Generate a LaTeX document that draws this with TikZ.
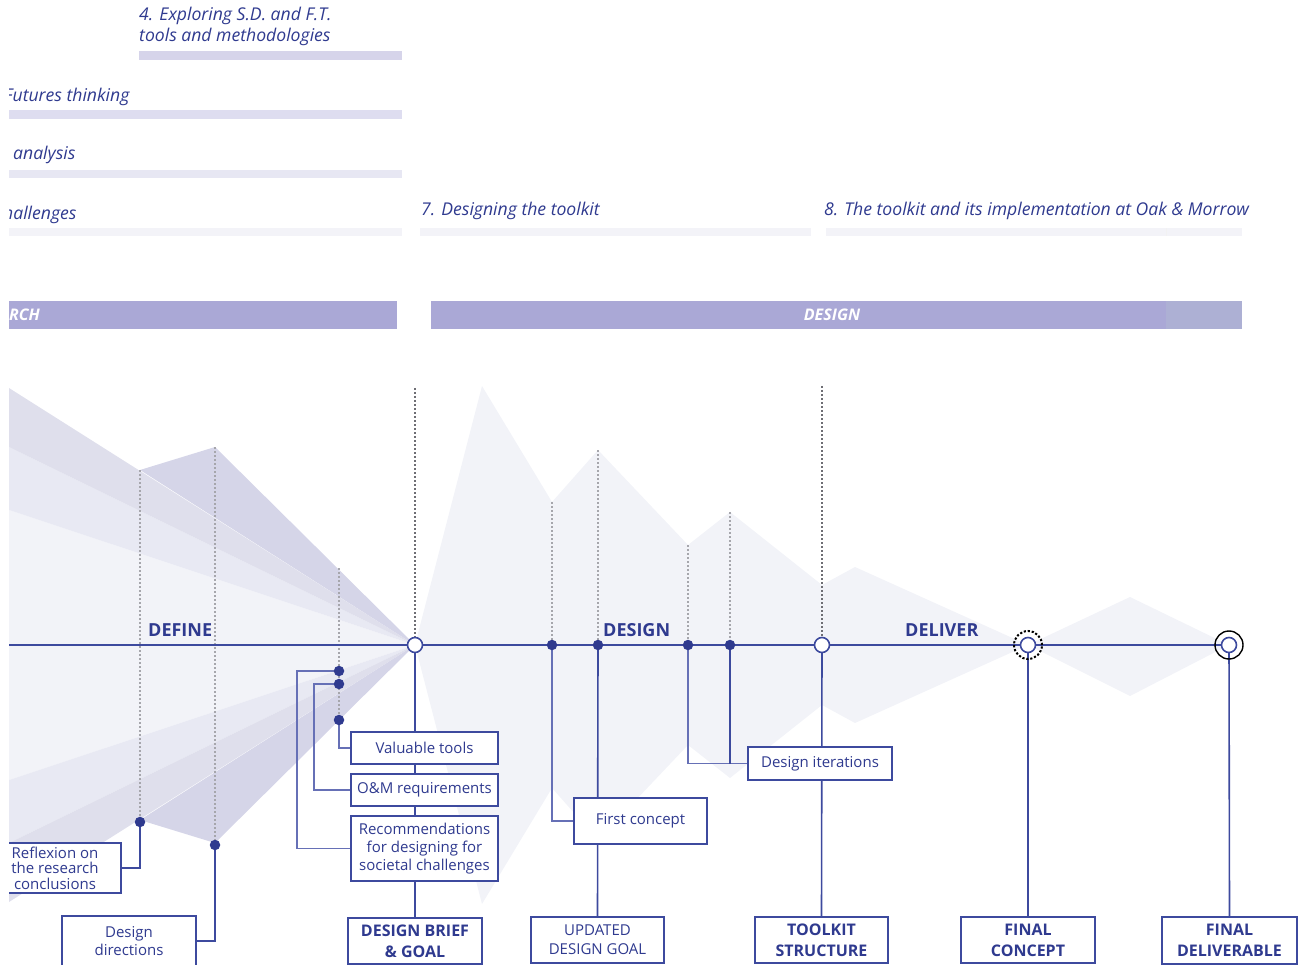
\documentclass[tikz,border=0pt]{standalone}
\usepackage{fontspec}
\setmainfont{Open Sans}
\definecolor{navy}{HTML}{2F3A8F}
\definecolor{wire}{HTML}{3D4A9E}
\definecolor{wirelight}{HTML}{6670B6}
\definecolor{bgA}{HTML}{F2F3F8}
\definecolor{bgB}{HTML}{E8E9F3}
\definecolor{bgC}{HTML}{DFDFEC}
\definecolor{bgD}{HTML}{D5D5E8}
\definecolor{barA}{HTML}{D6D4EA}
\definecolor{barB}{HTML}{DEDDF0}
\definecolor{barC}{HTML}{E7E7F3}
\definecolor{barD}{HTML}{F3F3F8}
\definecolor{phase}{HTML}{AAA8D6}
\definecolor{phaseend}{HTML}{ADB0D4}
\definecolor{guidegray}{HTML}{A6A6AC}
\definecolor{guidedark}{HTML}{6E6E74}
\pgfdeclarelayer{back}
\pgfdeclarelayer{mid}
\pgfsetlayers{back,mid,main}
\tikzset{
  box/.style={draw=wire, line width=1.2pt, fill=white, inner sep=0pt, align=center,
    text=navy, font=\fontsize{15}{18}\selectfont},
  keybox/.style={box, line width=2pt, font=\bfseries\fontsize{16}{21}\selectfont},
  dot/.style={circle, fill=navy, inner sep=0pt, minimum size=10.5pt},
  hub/.style={circle, draw=wire, fill=white, line width=1.6pt, inner sep=0pt, minimum size=15pt},
  ring/.style={circle, draw=black, inner sep=0pt, minimum size=28pt},
  link/.style={draw=wire, line width=1.6pt},
  linklight/.style={draw=wirelight, line width=1.4pt},
  dotline/.style={draw=guidegray, line width=1.2pt, dash pattern=on 2pt off 2pt},
  dotlinedark/.style={draw=guidedark, line width=1.3pt, dash pattern=on 2pt off 2pt},
  axisline/.style={draw=wire, line width=2pt},
  phase label/.style={text=navy, font=\bfseries\fontsize{18}{20}\selectfont, anchor=base west, inner sep=0pt},
  chapter/.style={text=navy, font=\itshape\fontsize{17.6}{20}\selectfont, anchor=base west, inner sep=0pt},
}
\begin{document}
\begin{tikzpicture}[x=1pt,y=-1pt]
\useasboundingbox (0,0) rectangle (1301,965);

\begin{scope}
\clip (9,0) rectangle (1301,965);
% chapter titles
\node[chapter] (c4a) at (139,21) {4. Exploring S.D. and F.T.};
\node[chapter] (c4b) at (139,42) {tools and methodologies};
\node[chapter] (cft) at (4,102) {Futures thinking};
\node[chapter] (can) at (13,160) {analysis};
\node[chapter] (cch) at (3,220) {hallenges};
\node[chapter] (c7) at (421,216) {7. Designing the toolkit};
\node[chapter] (c8) at (824,216) {8. The toolkit and its implementation at Oak \& Morrow};
% phase bar labels
\node[text=white, font=\bfseries\itshape\fontsize{16}{18}\selectfont, anchor=base west, inner sep=0pt] (prch) at (9,321) {RCH};
\node[text=white, font=\bfseries\itshape\fontsize{16}{18}\selectfont, anchor=base, inner sep=0pt] (pdes) at (832,321) {DESIGN};

% phase names on the axis
\node[phase label] (lbdef) at (148,636) {DEFINE};
\node[phase label] (lbdes) at (603,636) {DESIGN};
\node[phase label] (lbdel) at (905,636) {DELIVER};

% boxes
\node[box, minimum width=147pt, minimum height=32pt] (vt) at (424.5,748) {Valuable tools};
\node[box, minimum width=147pt, minimum height=32pt] (om) at (424.5,790) {O\&M requirements};
\node[box, minimum width=147pt, minimum height=65pt] (rec) at (424.5,848.5) {Recommendations\\for designing for\\societal challenges};
\node[keybox, minimum width=134pt, minimum height=46pt] (brief) at (415,941) {DESIGN BRIEF\\\& GOAL};
\node[box, font=\fontsize{15}{15.5}\selectfont, minimum width=132pt, minimum height=50pt] (refl) at (55,868) {Reflexion on\\the research\\conclusions};
\node[box, minimum width=134pt, minimum height=50pt] (dd) at (129,941) {Design\\directions};
\node[box, minimum width=133pt, minimum height=46pt] (fc) at (640.5,821) {First concept};
\node[box, font=\fontsize{15}{19}\selectfont, minimum width=133pt, minimum height=46pt] (upd) at (597.5,940) {UPDATED\\DESIGN GOAL};
\node[box, minimum width=144pt, minimum height=33pt] (di) at (820,763.5) {Design iterations};
\node[keybox, line width=1.6pt, minimum width=133pt, minimum height=46pt] (tk) at (821.5,940) {TOOLKIT\\STRUCTURE};
\node[keybox, line width=1.3pt, minimum width=134pt, minimum height=46pt] (fcon) at (1028,940) {FINAL\\CONCEPT};
\node[keybox, minimum width=135pt, minimum height=47pt] (fdel) at (1229.5,940.5) {FINAL\\DELIVERABLE};

% milestones on and below the axis
\node[dot] (r1) at (140,822) {};
\node[dot] (r2) at (215,845) {};
\node[dot] (s1) at (339,671) {};
\node[dot] (s2) at (339,684) {};
\node[dot] (s3) at (339,720) {};
\node[dot] (d1) at (552,645) {};
\node[dot] (d2) at (598,645) {};
\node[dot] (d3) at (688,645) {};
\node[dot] (d4) at (730,645) {};
\node[hub] (h1) at (415,645) {};
\node[hub] (h2) at (822,645) {};
\node[ring, line width=2pt, dash pattern=on 2.2pt off 1.8pt] (h3ring) at (1028,645) {};
\node[hub] (h3) at (1028,645) {};
\node[ring, line width=1.4pt] (h4ring) at (1229,645) {};
\node[hub] (h4) at (1229,645) {};
\end{scope}

% shaded fans, bars and guide lines
\begin{pgfonlayer}{back}
\begin{scope}
\clip (9,0) rectangle (1301,965);
\fill[barA] (139,51) rectangle (402,60);
\fill[barB] (9,110) rectangle (402,119);
\fill[barC] (9,170) rectangle (402,178);
\fill[barD] (9,228) rectangle (402,236);
\fill[barD] (420,228) rectangle (811,236);
\fill[barD] (826,228) rectangle (1242,236);
\draw[white!90!gray, line width=0.6pt] (1166,228) -- (1166,236);
\fill[phase] (9,301) rectangle (397,329);
\fill[phase] (431,301) rectangle (1166,329);
\fill[phaseend] (1166,301) rectangle (1242,329);

\fill[bgA] (415,645) -- (482,386) -- (552,502) -- (598,450) -- (688,545) -- (730,512)
  -- (822,585) -- (855,567) -- (1028,645) -- (855,723) -- (822,705) -- (730,778)
  -- (688,745) -- (598,840) -- (552,788) -- (482,904) -- cycle;
\fill[bgA] (1028,645) -- (1130,597) -- (1229,645) -- (1130,696) -- cycle;
\fill[bgA] (9,510) -- (415,645) -- (9,780) -- cycle;
\fill[bgB] (9,447) -- (415,645) -- (9,510) -- cycle;
\fill[bgB] (9,843) -- (415,645) -- (9,780) -- cycle;
\fill[bgC] (9,388) -- (415,645) -- (9,447) -- cycle;
\fill[bgC] (9,902) -- (415,645) -- (9,843) -- cycle;
\fill[bgD] (140,470) -- (215,447) -- (415,645) -- cycle;
\fill[bgD] (140,820) -- (215,843) -- (415,645) -- cycle;

\coordinate (g1) at (140,470);
\coordinate (g2) at (215,447);
\coordinate (g3) at (339,568);
\coordinate (g4) at (415,388);
\coordinate (g5) at (552,502);
\coordinate (g6) at (598,450);
\coordinate (g7) at (688,545);
\coordinate (g8) at (730,512);
\coordinate (g9) at (822,386);
\draw[dotline] (g1) -- (r1.center);
\draw[dotline] (g2) -- (r2.center);
\draw[dotline] (g3) -- (s3.center);
\draw[dotlinedark] (g4) -- (h1.center);
\draw[dotline] (g5) -- (d1.center);
\draw[dotline] (g6) -- (d2.center);
\draw[dotline] (g7) -- (d3.center);
\draw[dotline] (g8) -- (d4.center);
\draw[dotlinedark] (g9) -- (h2.center);
\end{scope}
\end{pgfonlayer}

% timeline and connectors
\begin{pgfonlayer}{mid}
\begin{scope}
\clip (9,0) rectangle (1301,965);
\coordinate (axL) at (9,645);
\draw[axisline] (axL) -- (h4.center);
\draw[link] (r1.center) |- (refl.east);
\draw[link] (r2.center) |- (dd.east);
\coordinate (k1) at (297,671);
\coordinate (k2) at (314,684);
\draw[linklight] (s1.center) -- (k1) |- (rec.west);
\draw[linklight] (s2.center) -- (k2) |- (om.west);
\draw[linklight] (s3.center) |- (vt.west);
\draw[link] (h1.center) -- (brief.north);
\draw[linklight] (d1.center) |- (fc.west);
\draw[link] (d2.center) -- (upd.north);
\draw[linklight] (d3.center) |- (di.west);
\draw[link] (d4.center) -- (d4.center |- di.west);
\draw[link] (h2.center) -- (tk.north);
\draw[link] (h3.center) -- (fcon.north);
\draw[link] (h4.center) -- (fdel.north);
\end{scope}
\end{pgfonlayer}
\end{tikzpicture}
\end{document}
